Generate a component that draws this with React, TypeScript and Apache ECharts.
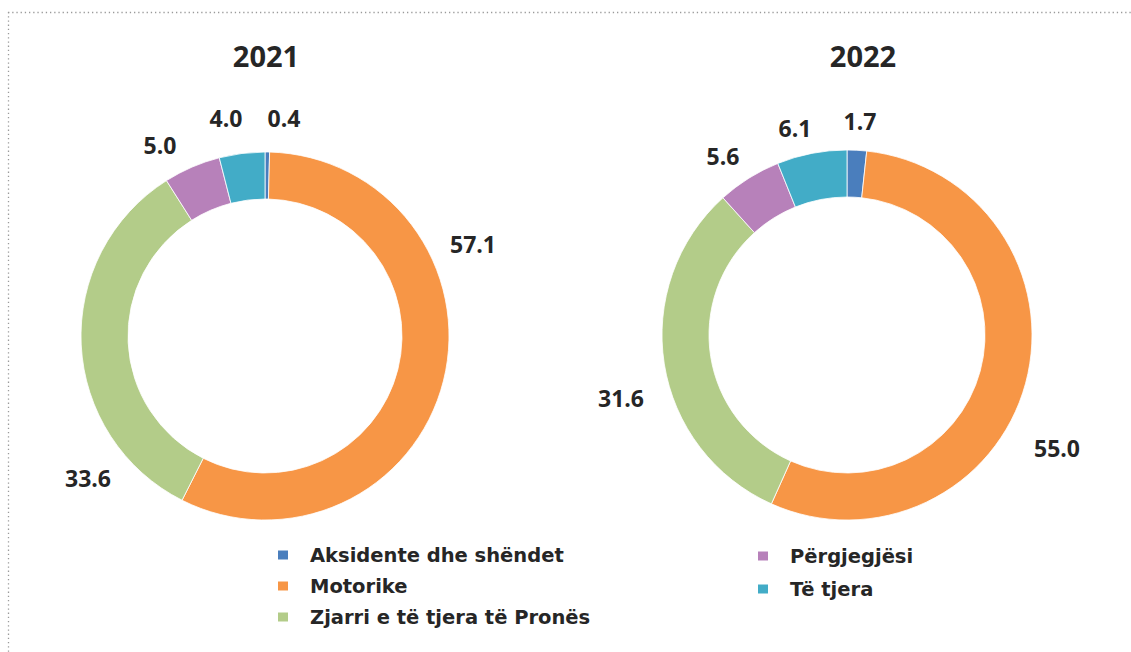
import React, { useEffect, useRef } from "react";
import * as echarts from "echarts";

const categories = [
  "Aksidente dhe shëndet",
  "Motorike",
  "Zjarri e të tjera të Pronës",
  "Përgjegjësi",
  "Të tjera",
];
const values2021 = [0.4, 57.1, 33.6, 5.0, 4.0];
const values2022 = [1.7, 55.0, 31.6, 5.6, 6.1];
const years = ["2021", "2022"];

const colors = ["#4A7EBD", "#F79646", "#B3CC89", "#B781BA", "#42ACC7"];

// label anchor positions (layout only)
const labelPos2021 = [
  [284, 118],
  [473, 244],
  [88, 478],
  [160, 145],
  [226, 118],
];
const labelPos2022 = [
  [860, 121],
  [1057, 448],
  [621, 398],
  [723, 156],
  [795, 128],
];

export default function App() {
  const ref = useRef<HTMLDivElement>(null);
  useEffect(() => {
    if (!ref.current) return;
    const chart = echarts.init(ref.current, null, { renderer: "svg" });
    const labelFont = {
      fontFamily: "Open Sans",
      fontWeight: "bold" as const,
      fontSize: 23,
      color: "#262626",
    };
    const mkSeries = (vals: number[], center: number[], radius: number[], pos: number[][]) => ({
      type: "pie",
      center,
      radius,
      startAngle: 90,
      clockwise: true,
      avoidLabelOverlap: false,
      data: categories.map((c, i) => ({ name: c, value: vals[i] })),
      itemStyle: { borderColor: "#ffffff", borderWidth: 0.8 },
      label: {
        show: true,
        position: "outside",
        overflow: "none",
        formatter: (p: any) => Number(p.value).toFixed(1),
        ...labelFont,
      },
      labelLine: { show: false },
      labelLayout: (p: any) => ({
        x: pos[p.dataIndex][0],
        y: pos[p.dataIndex][1],
        align: "center",
        verticalAlign: "middle",
        width: 80,
      }),
      emphasis: { disabled: true },
    });
    const legendText = {
      fontFamily: "DejaVu Sans",
      fontWeight: "bold" as const,
      fontSize: 19.5,
      color: "#262626",
      lineHeight: 20,
      padding: [0, 0, 0, 16],
    };
    chart.setOption({
      animation: false,
      color: colors,
      legend: [
        {
          data: categories.slice(0, 3),
          orient: "vertical",
          left: 276,
          top: 545,
          icon: "rect",
          itemWidth: 12,
          itemHeight: 11,
          itemGap: 11,
          padding: 0,
          selectedMode: false,
          textStyle: legendText,
        },
        {
          data: categories.slice(3),
          orient: "vertical",
          left: 756,
          top: 546,
          icon: "rect",
          itemWidth: 12,
          itemHeight: 11,
          itemGap: 13,
          padding: 0,
          selectedMode: false,
          textStyle: legendText,
        },
      ],
      graphic: [
        {
          type: "line",
          shape: { x1: 8, y1: 12.5, x2: 1131, y2: 12.5 },
          style: { stroke: "#9a9a9a", lineWidth: 1.3, lineDash: [1.3, 2.9] },
        },
        {
          type: "line",
          shape: { x1: 8.5, y1: 12, x2: 8.5, y2: 652 },
          style: { stroke: "#9a9a9a", lineWidth: 1.3, lineDash: [1.3, 2.9] },
        },
        {
          type: "text",
          style: {
            text: years[0],
            x: 266,
            y: 55,
            align: "center",
            verticalAlign: "middle",
            fontFamily: "Open Sans",
            fontWeight: "bold",
            fontSize: 29,
            fill: "#262626",
          },
        },
        {
          type: "text",
          style: {
            text: years[1],
            x: 863,
            y: 55,
            align: "center",
            verticalAlign: "middle",
            fontFamily: "Open Sans",
            fontWeight: "bold",
            fontSize: 29,
            fill: "#262626",
          },
        },
      ],
      series: [
        mkSeries(values2021, [265, 336], [137, 184], labelPos2021),
        mkSeries(values2022, [847, 335], [138, 185], labelPos2022),
      ],
    });
    return () => chart.dispose();
  }, []);
  return (
    <div
      ref={ref}
      style={{ position: "fixed", left: 0, top: 0, width: 1131, height: 652, background: "#fff" }}
    />
  );
}
